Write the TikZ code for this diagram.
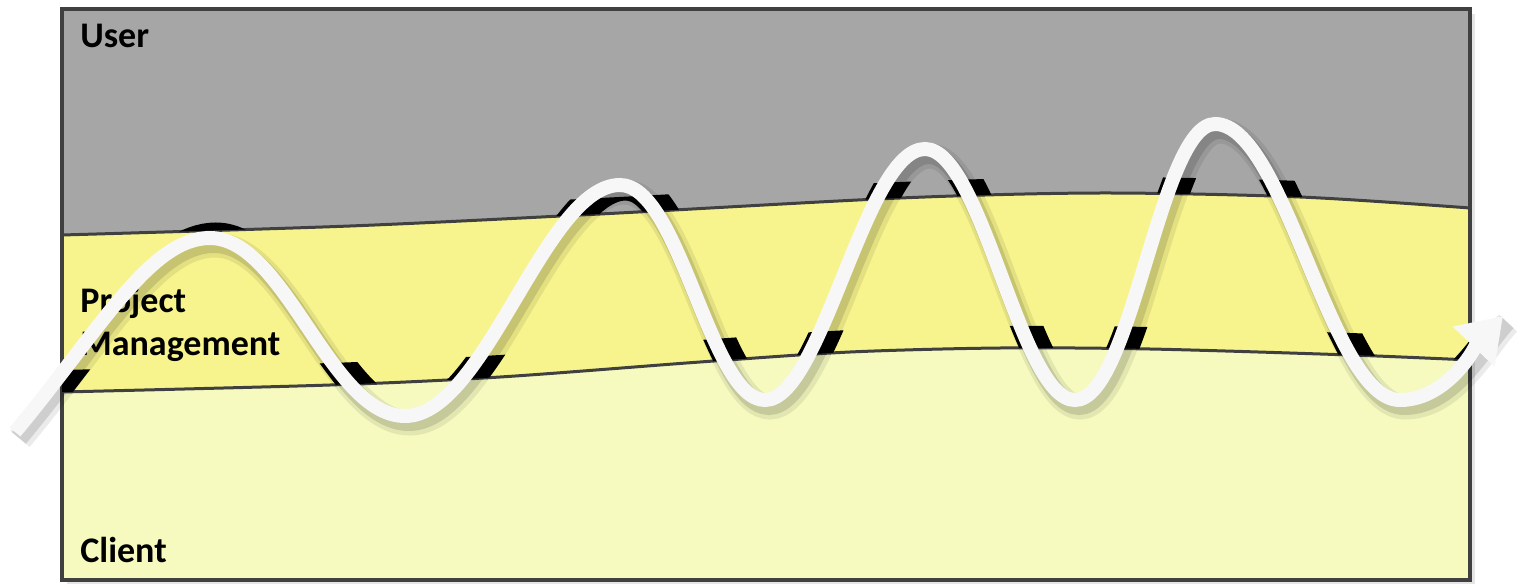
\documentclass[tikz,border=0pt]{standalone}
\usepackage{fontspec}
\setmainfont{Carlito}
\usetikzlibrary{arrows.meta}
\usepackage{xcolor}

\definecolor{usergray}{HTML}{A6A6A6}
\definecolor{pmyellow}{HTML}{F7F48D}
\definecolor{clientyellow}{HTML}{F6FABF}
\definecolor{edgegray}{HTML}{404040}
\definecolor{wavewhite}{HTML}{F7F7F7}

% boundary lines between the bands (argument lifts the line)
\newcommand{\upperline}[1]{plot[smooth] coordinates {(62,{235-#1}) (350,{226-#1}) (600,{214-#1}) (900,{198-#1}) (1100,{193-#1}) (1300,{197-#1}) (1470,{208-#1})}}
\newcommand{\lowerline}[1]{plot[smooth] coordinates {(62,{392-#1}) (330,{385-#1}) (500,{377-#1}) (700,{362-#1}) (850,{352-#1}) (1000,{348-#1}) (1150,{349-#1}) (1350,{355-#1}) (1470,{360-#1})}}
\newcommand{\wavepath}{(15,432) .. controls (100,330) and (150,238) .. (210,238) .. controls (285,238) and (330,416) .. (405,416) .. controls (485,416) and (545,185) .. (620,185) .. controls (680,185) and (710,400) .. (765,400) .. controls (822,400) and (865,149) .. (925,149) .. controls (982,149) and (1020,400) .. (1075,400) .. controls (1132,400) and (1160,124) .. (1215,124) .. controls (1285,124) and (1330,400) .. (1400,400) .. controls (1450,400) and (1480,340) .. (1503,316)}

\begin{document}
\begin{tikzpicture}[x=0.02cm, y=-0.02cm,
    lbl/.style={font=\fontsize{20.5}{24.4}\selectfont\bfseries, inner sep=0pt, anchor=base west, align=left},
    edge/.style={draw=edgegray, line width=0.06cm}]
    \useasboundingbox (0,0) rectangle (1523,584);

    % bands
    \fill[black!10] (67,14) rectangle (1475,584);
    \fill[pmyellow] (62,9) rectangle (1470,580);
    \fill[usergray] \upperline{0} -- (1470,9) -- (62,9) -- cycle;
    \fill[clientyellow] \lowerline{0} -- (1470,580) -- (62,580) -- cycle;
    \draw[edge] \upperline{0};
    \draw[edge] \lowerline{0};
    \draw[edgegray, line width=0.08cm] (62,9) rectangle (1470,580);

    % labels
    \node[lbl] (user) at (80,48) {User};
    \node[lbl] (pm) at (80,355) {Project\\Management};
    \node[lbl] (client) at (80,562) {Client};

    % black bits of the wave just above the band edges
    \begin{scope}
        \clip \upperline{0} -- (1470,0) -- (62,0) -- cycle;
        \clip \upperline{16} -- (1470,600) -- (62,600) -- cycle;
        \draw[black, line width=0.62cm, xshift=0.12cm] \wavepath;
    \end{scope}
    \begin{scope}
        \clip \lowerline{0} -- (1470,0) -- (62,0) -- cycle;
        \clip \lowerline{22} -- (1470,600) -- (62,600) -- cycle;
        \draw[black, line width=0.62cm, xshift=0.12cm] \wavepath;
    \end{scope}

    % wave with its shadow
    \draw[black, opacity=0.08, line width=0.5cm, shift={(5,7)}] \wavepath;
    \draw[black, opacity=0.12, line width=0.36cm, shift={(4,6)}] \wavepath;
    \draw[wavewhite, line width=0.28cm, -{Triangle[width=1.1cm,length=0.85cm]}] \wavepath;
\end{tikzpicture}
\end{document}
